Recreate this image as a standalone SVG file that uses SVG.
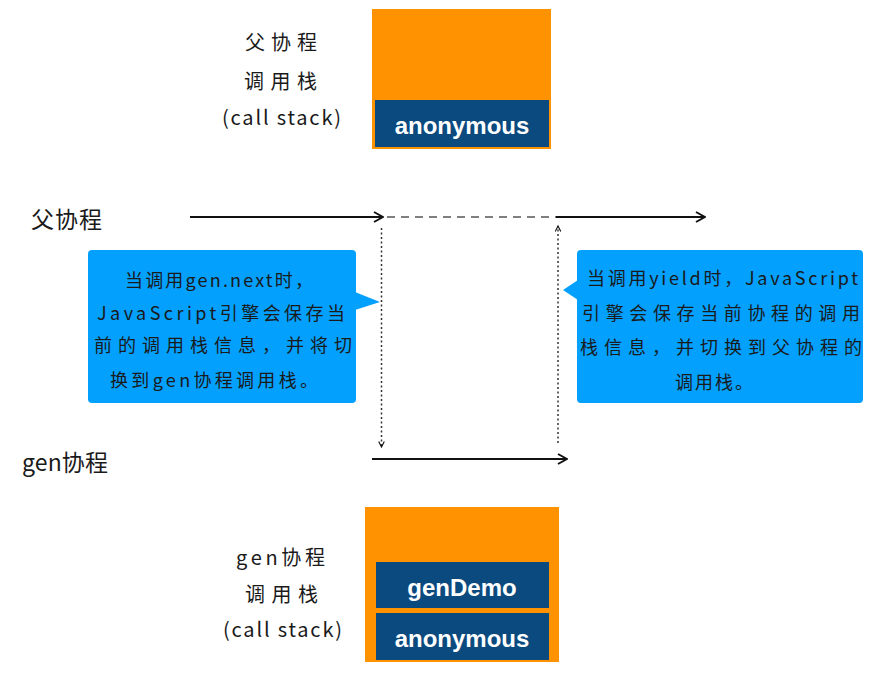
<svg xmlns="http://www.w3.org/2000/svg" width="879" height="674" viewBox="0 0 879 674">
<defs>
<style>
.hand{font-family:"Noto Sans CJK SC","Noto Sans",sans-serif;fill:#1a1a1a;}
.lbl{font-size:20px;}
.side{font-size:23px;}
.bub{font-size:18px;}
.frame{font-family:"Liberation Sans",Arial,sans-serif;font-weight:bold;font-size:24px;fill:#ffffff;text-anchor:middle;}
.orange{fill:#FF9200;}
.navy{fill:#0B4A7E;}
.bubble{fill:#03A0FE;}
.solid{stroke:#111;stroke-width:2;fill:none;}
.dash{stroke:#555;stroke-width:1.5;stroke-dasharray:8 6;fill:none;}
.dot{stroke:#333;stroke-width:1.5;stroke-dasharray:2 2.5;fill:none;}
</style>
<marker id="arr" viewBox="0 0 10 10" refX="9" refY="5" markerWidth="7" markerHeight="7" orient="auto" markerUnits="userSpaceOnUse">
<path d="M1,1 L9,5 L1,9" fill="none" stroke="#111" stroke-width="1.6"/>
</marker>
<marker id="arrbig" viewBox="0 0 12 12" refX="11" refY="6" markerWidth="12" markerHeight="12" orient="auto" markerUnits="userSpaceOnUse">
<path d="M2,1 L11,6 L2,11" fill="none" stroke="#111" stroke-width="2"/>
</marker>
</defs>
<rect width="879" height="674" fill="#ffffff"/>

<g id="parent-stack">
<rect class="orange" x="372" y="9" width="179" height="140"/>
<rect class="navy" x="375" y="100" width="174" height="47"/>
<text class="frame" x="462" y="134">anonymous</text>
</g>
<g id="parent-stack-label" class="hand lbl">
<text x="245" y="50" textLength="72" lengthAdjust="spacing">父协程</text>
<text x="244" y="89" textLength="73" lengthAdjust="spacing">调用栈</text>
<text x="222" y="125" textLength="119" lengthAdjust="spacing">(call stack)</text>
</g>

<g id="parent-label" class="hand side"><text x="31" y="228" textLength="71" lengthAdjust="spacing">父协程</text></g>
<g id="gen-label" class="hand side"><text x="22" y="471" textLength="86" lengthAdjust="spacing">gen协程</text></g>

<g id="connectors">
<line class="solid" x1="190" y1="217" x2="383" y2="217" marker-end="url(#arrbig)"/>
<line class="dash" x1="387" y1="217" x2="556" y2="217"/>
<line class="solid" x1="556" y1="217" x2="705" y2="217" marker-end="url(#arrbig)"/>
<line class="dot" x1="381.5" y1="228" x2="381.5" y2="447" marker-end="url(#arr)"/>
<line class="dot" x1="558" y1="443" x2="558" y2="226" marker-end="url(#arr)"/>
<line class="solid" x1="372" y1="459" x2="567" y2="459" marker-end="url(#arrbig)"/>
</g>

<g id="bubble-next">
<rect class="bubble" x="88" y="250" width="268" height="153" rx="4"/>
<polygon class="bubble" points="355,292 380,302 355,310"/>
<g class="hand bub">
<text x="125" y="287" textLength="188" lengthAdjust="spacing">当调用gen.next时，</text>
<text x="97" y="320" textLength="248" lengthAdjust="spacing">JavaScript引擎会保存当</text>
<text x="94" y="352" textLength="258" lengthAdjust="spacing">前的调用栈信息，并将切</text>
<text x="110" y="387" textLength="208" lengthAdjust="spacing">换到gen协程调用栈。</text>
</g>
</g>

<g id="bubble-yield">
<rect class="bubble" x="577" y="250" width="286" height="153" rx="4"/>
<polygon class="bubble" points="578,280 563,290 578,300"/>
<g class="hand bub">
<text x="587" y="285" textLength="271" lengthAdjust="spacing">当调用yield时，JavaScript</text>
<text x="582" y="320" textLength="278" lengthAdjust="spacing">引擎会保存当前协程的调用</text>
<text x="580" y="354" textLength="282" lengthAdjust="spacing">栈信息，并切换到父协程的</text>
<text x="675" y="389" textLength="78" lengthAdjust="spacing">调用栈。</text>
</g>
</g>

<g id="gen-stack">
<rect class="orange" x="365" y="507" width="194" height="155"/>
<rect class="navy" x="376" y="562" width="173" height="46"/>
<text class="frame" x="462" y="596">genDemo</text>
<rect class="navy" x="376" y="613" width="173" height="47"/>
<text class="frame" x="462" y="647">anonymous</text>
</g>
<g id="gen-stack-label" class="hand lbl">
<text x="236" y="565" textLength="89" lengthAdjust="spacing">gen协程</text>
<text x="245" y="602" textLength="73" lengthAdjust="spacing">调用栈</text>
<text x="223" y="637" textLength="119" lengthAdjust="spacing">(call stack)</text>
</g>
</svg>
